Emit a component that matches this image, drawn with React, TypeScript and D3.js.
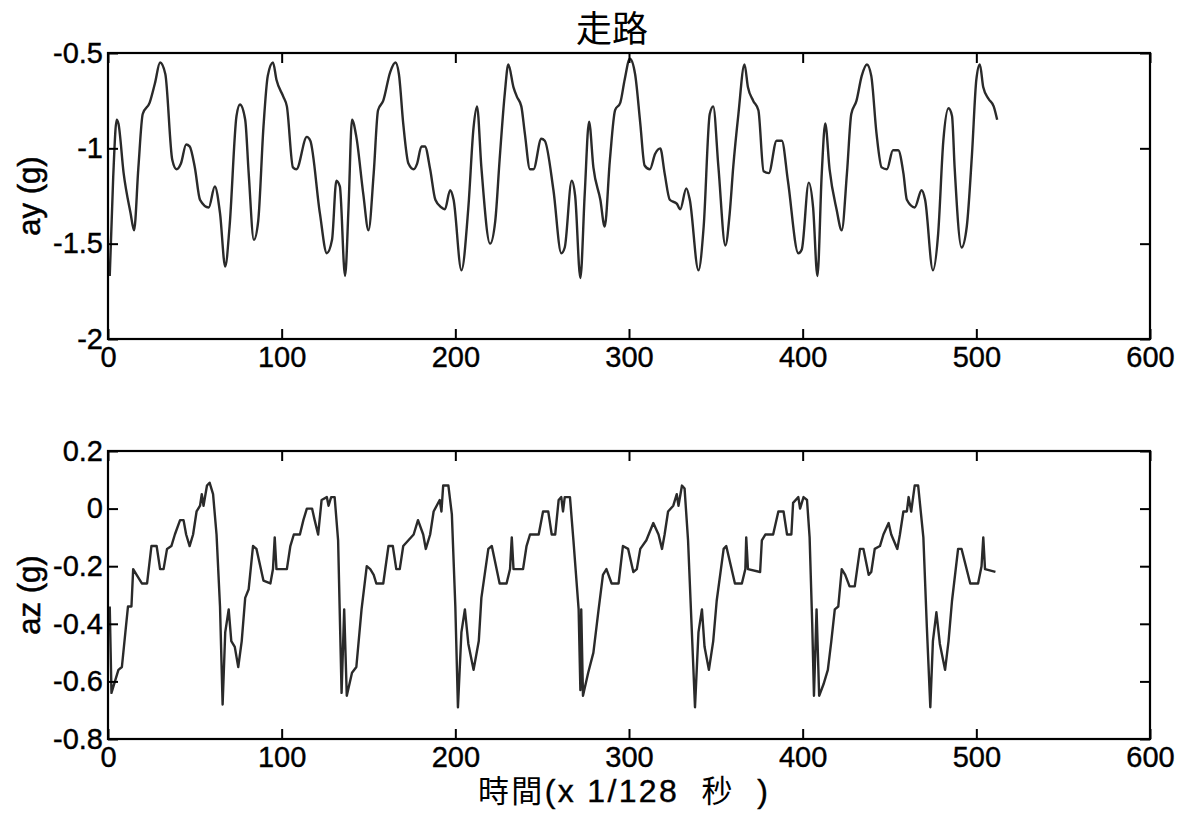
import React, { useEffect, useRef } from "react";
import * as d3 from "d3";

// ---- data ----
const ayT = [1,3,5,6,9,13,15,17.5,20,24,27,30,33,37,39.5,42,45,47,50,53,58,61.5,64.5,67.5,70,74,76,79,81,84,86.5,89.5,92,95,97,101,103,106.5,108.5,114.5,116.5,122,126,129,131.5,133.5,136.5,138.5,140.5,143,147,150,153,155.5,158.5,162.5,165.5,167.5,170,173,176,178,180.5,182.5,185.5,188.5,192,194,197,199,203.5,207.5,210.5,212.5,215,220,223,225.5,228.5,230.5,233.5,235.5,238,240,243,245,249.5,251.5,256.5,261,263,267,269,272,274.5,277,279.5,283.5,286,289,292,295,297.5,300.5,303.5,306.5,309,312,315,318,320.5,323.5,327.5,329.5,333,335,340,343,346.5,348.5,351.5,355.5,358,360,363,366.5,368.5,371.5,374.5,377.5,380.5,385,388,391.5,397.5,399.5,403.5,406,408.5,411,413,415.5,419.5,422.5,425.5,428,431,434,437,439.5,442.5,445.5,448.5,452,455,458,460,464.5,468.5,470.5,475,478,481,484,486,487.5,491.5,494.5,497.5,500,502,504,507,510,512];
const ayV = [-1.67,-1.15,-0.85,-0.87,-1.13,-1.34,-1.43,-1.10,-0.82,-0.76,-0.66,-0.55,-0.61,-1.06,-1.11,-1.08,-0.98,-0.99,-1.10,-1.27,-1.31,-1.20,-1.34,-1.62,-1.41,-0.83,-0.77,-0.85,-1.13,-1.48,-1.38,-0.89,-0.62,-0.55,-0.64,-0.73,-0.78,-1.10,-1.11,-0.94,-0.96,-1.34,-1.55,-1.48,-1.17,-1.20,-1.67,-1.31,-0.85,-0.94,-1.24,-1.43,-1.13,-0.80,-0.75,-0.60,-0.55,-0.61,-0.87,-1.08,-1.11,-1.08,-0.99,-0.99,-1.11,-1.27,-1.31,-1.32,-1.22,-1.27,-1.64,-1.31,-0.89,-0.78,-1.10,-1.50,-1.38,-1.06,-0.71,-0.56,-0.68,-0.73,-0.78,-0.92,-1.11,-1.11,-0.95,-0.96,-1.22,-1.55,-1.52,-1.17,-1.25,-1.68,-1.24,-0.86,-1.10,-1.27,-1.41,-1.06,-0.80,-0.76,-0.64,-0.53,-0.61,-0.87,-1.09,-1.11,-1.03,-1.00,-1.13,-1.27,-1.29,-1.32,-1.21,-1.27,-1.64,-1.41,-0.82,-0.78,-1.10,-1.51,-1.34,-1.10,-0.82,-0.56,-0.68,-0.75,-0.80,-1.12,-1.13,-0.96,-0.96,-1.17,-1.55,-1.53,-1.18,-1.31,-1.67,-1.13,-0.87,-1.11,-1.32,-1.43,-1.13,-0.82,-0.75,-0.62,-0.56,-0.62,-0.92,-1.10,-1.11,-1.01,-1.01,-1.13,-1.27,-1.31,-1.22,-1.27,-1.64,-1.45,-0.96,-0.79,-0.83,-1.10,-1.52,-1.41,-1.03,-0.64,-0.56,-0.68,-0.74,-0.78,-0.85];

const azT = [1,2,4,6,8,10,11.5,13.5,14.5,16.5,19.5,22.5,25,28,30,32,34,36.5,38.5,41.5,43.5,45,47,49,51,53,54,55,57,58.5,60.5,62.5,64.5,66,67.5,69.5,71,73,75,77,79,81,83.5,85.5,89.5,93.5,95,96,97,103,105,107,110.5,112.5,114.5,117.5,119,121,123,126,127,128.5,130.5,132.5,134.5,136,137.5,140.5,143,146,149,151,153,154.5,158.5,161.5,164,166,168,170,173,176,178.5,181.5,183,185.5,187.5,191,192,193,196,198,200,201.5,203.5,205.5,207.5,210.5,213.5,215,219,221,225.5,229.5,231.5,232.5,233.5,239,241,243,248,250.5,253.5,255.5,257.5,259.5,261,262,263,266,268,271,272,272.5,273.5,276.5,279.5,282.5,285,287,290,294,296.5,299.5,302.5,304.5,306.5,310,314,317,319,320.5,322.5,325.5,327.5,328.5,330.5,332,334,336,338,340,342,343.5,346,348.5,350.5,354.5,356,361,365,367,367.5,368.5,375.5,376.5,378.5,383,386,389,391,393.5,394.5,397.5,398.5,400.5,402.5,404,405.5,406.5,408,409.5,412,414.5,416.5,418.5,420.5,422.5,424.5,427,430,433,435,438,439.5,441.5,444.5,446.5,449.5,451,454.5,456,458,460,461,462.5,464.5,466.5,469.5,471.5,473.5,475,477,479,482,484,486,489.5,491.5,496.5,501,503,504,505,511];
const azV = [-0.34,-0.64,-0.60,-0.56,-0.55,-0.43,-0.34,-0.34,-0.21,-0.23,-0.26,-0.26,-0.13,-0.13,-0.21,-0.21,-0.14,-0.13,-0.09,-0.04,-0.04,-0.09,-0.13,-0.09,-0.01,0.01,0.05,0.01,0.08,0.09,0.05,-0.09,-0.34,-0.68,-0.43,-0.35,-0.46,-0.48,-0.55,-0.46,-0.31,-0.28,-0.13,-0.14,-0.25,-0.26,-0.21,-0.10,-0.21,-0.21,-0.13,-0.09,-0.09,-0.04,0.00,0.00,-0.04,-0.09,0.03,0.04,0.01,0.04,0.04,-0.11,-0.64,-0.35,-0.65,-0.57,-0.55,-0.35,-0.20,-0.21,-0.23,-0.26,-0.26,-0.13,-0.13,-0.21,-0.21,-0.13,-0.11,-0.09,-0.04,-0.09,-0.14,-0.09,-0.01,0.03,-0.01,0.08,0.08,-0.02,-0.34,-0.69,-0.43,-0.35,-0.47,-0.56,-0.46,-0.31,-0.14,-0.13,-0.26,-0.26,-0.21,-0.10,-0.21,-0.21,-0.13,-0.09,-0.09,-0.01,-0.01,-0.09,-0.09,0.03,0.04,-0.01,0.04,0.04,-0.11,-0.35,-0.63,-0.35,-0.65,-0.57,-0.50,-0.35,-0.23,-0.21,-0.26,-0.26,-0.13,-0.14,-0.22,-0.21,-0.14,-0.11,-0.05,-0.09,-0.14,-0.09,-0.01,0.01,0.05,0.01,0.08,0.07,-0.11,-0.40,-0.69,-0.43,-0.35,-0.48,-0.56,-0.46,-0.32,-0.14,-0.13,-0.26,-0.26,-0.21,-0.10,-0.21,-0.22,-0.11,-0.09,-0.09,-0.01,-0.01,-0.09,-0.09,0.02,0.04,0.00,0.04,0.03,-0.10,-0.40,-0.65,-0.35,-0.65,-0.61,-0.56,-0.46,-0.35,-0.34,-0.21,-0.23,-0.27,-0.27,-0.14,-0.14,-0.23,-0.22,-0.14,-0.13,-0.09,-0.05,-0.09,-0.14,-0.09,-0.01,-0.01,0.04,-0.01,0.08,0.08,-0.10,-0.41,-0.69,-0.46,-0.36,-0.47,-0.56,-0.46,-0.32,-0.14,-0.14,-0.26,-0.26,-0.20,-0.10,-0.21,-0.22];

const xTicks = [0, 100, 200, 300, 400, 500, 600];
const ayTicks = [-2, -1.5, -1, -0.5];
const azTicks = [-0.8, -0.6, -0.4, -0.2, 0, 0.2];

const TITLE = "走路";
const XLABEL_PARTS = [
  { text: "時間", cjk: true },
  { text: "(x 1/128  ", cjk: false },
  { text: "秒", cjk: true },
  { text: "  )", cjk: false },
];

const W = 1184, H = 817;
const LEFT = 108, RIGHT = 1150;
const FONT = "'Liberation Sans', Arial, sans-serif";
const CJK = "'Noto Sans CJK TC', 'Noto Sans CJK SC', sans-serif";

export default function App() {
  const ref = useRef<SVGSVGElement | null>(null);

  useEffect(() => {
    const svg = d3.select(ref.current);
    svg.selectAll("*").remove();

    const x = d3.scaleLinear().domain([0, 600]).range([LEFT, RIGHT]);

    const panels = [
      { top: 53, bottom: 339, domain: [-2, -0.5], ticks: ayTicks, t: ayT, v: ayV, label: "ay (g)", curve: d3.curveMonotoneX },
      { top: 451, bottom: 739, domain: [-0.8, 0.2], ticks: azTicks, t: azT, v: azV, label: "az (g)", curve: d3.curveLinear },
    ];

    panels.forEach((p) => {
      const y = d3.scaleLinear().domain(p.domain).range([p.bottom, p.top]);
      const g = svg.append("g");

      // data line
      const pts = p.t.map((t, i) => [t, p.v[i]] as [number, number]);
      const line = d3.line<[number, number]>().x((d) => x(d[0])).y((d) => y(d[1])).curve(p.curve);
      g.append("path")
        .datum(pts)
        .attr("d", line)
        .attr("fill", "none")
        .attr("stroke", "#2a2a2a")
        .attr("stroke-width", 2.4)
        .attr("stroke-linejoin", "round");

      const fmt = (d: any) => String(d);

      const styleAxis = (sel: any) => {
        sel.select(".domain").remove();
        sel.selectAll(".tick line").attr("stroke", "#000").attr("stroke-width", 2);
        sel.selectAll(".tick text")
          .attr("fill", "#000")
          .attr("stroke", "#000")
          .attr("stroke-width", 0.4)
          .style("font-family", FONT)
          .style("font-size", "29px");
      };

      g.append("g")
        .attr("transform", `translate(0,${p.bottom})`)
        .call(d3.axisBottom(x).tickValues(xTicks).tickFormat(fmt).tickSizeInner(-10).tickSizeOuter(0).tickPadding(7))
        .call(styleAxis);
      g.append("g")
        .attr("transform", `translate(0,${p.top})`)
        .call(d3.axisTop(x).tickValues(xTicks).tickFormat(() => "").tickSizeInner(-10).tickSizeOuter(0))
        .call(styleAxis);
      g.append("g")
        .attr("transform", `translate(${LEFT},0)`)
        .call(d3.axisLeft(y).tickValues(p.ticks).tickFormat(fmt).tickSizeInner(-10).tickSizeOuter(0).tickPadding(5))
        .call(styleAxis);
      g.append("g")
        .attr("transform", `translate(${RIGHT},0)`)
        .call(d3.axisRight(y).tickValues(p.ticks).tickFormat(() => "").tickSizeInner(-10).tickSizeOuter(0))
        .call(styleAxis);

      g.append("rect")
        .attr("x", LEFT)
        .attr("y", p.top)
        .attr("width", RIGHT - LEFT)
        .attr("height", p.bottom - p.top)
        .attr("fill", "none")
        .attr("stroke", "#000")
        .attr("stroke-width", 2.2);

      g.append("text")
        .attr("transform", `translate(40,${(p.top + p.bottom) / 2}) rotate(-90)`)
        .attr("text-anchor", "middle")
        .style("font-family", FONT)
        .style("font-size", "31px")
        .attr("fill", "#000")
        .attr("stroke", "#000")
        .attr("stroke-width", 0.5)
        .text(p.label);
    });

    svg.append("text")
      .attr("x", 612)
      .attr("y", 42)
      .attr("text-anchor", "middle")
      .style("font-family", CJK)
      .style("font-size", "36px")
      .attr("fill", "#000")
      .text(TITLE);

    const xl = svg.append("text")
      .attr("x", 478)
      .attr("y", 802)
      .attr("textLength", 290)
      .attr("lengthAdjust", "spacing")
      .attr("fill", "#000")
      .style("white-space", "pre");
    XLABEL_PARTS.forEach((part) => {
      xl.append("tspan")
        .style("font-family", part.cjk ? CJK : FONT)
        .style("font-size", part.cjk ? "31px" : "32px")
        .attr("stroke", part.cjk ? "none" : "#000")
        .attr("stroke-width", 0.4)
        .style("white-space", "pre")
        .text(part.text);
    });
  }, []);

  return (
    <svg
      ref={ref}
      width={W}
      height={H}
      viewBox={`0 0 ${W} ${H}`}
      style={{ position: "absolute", left: 0, top: 0, background: "#fff", display: "block" }}
    />
  );
}
